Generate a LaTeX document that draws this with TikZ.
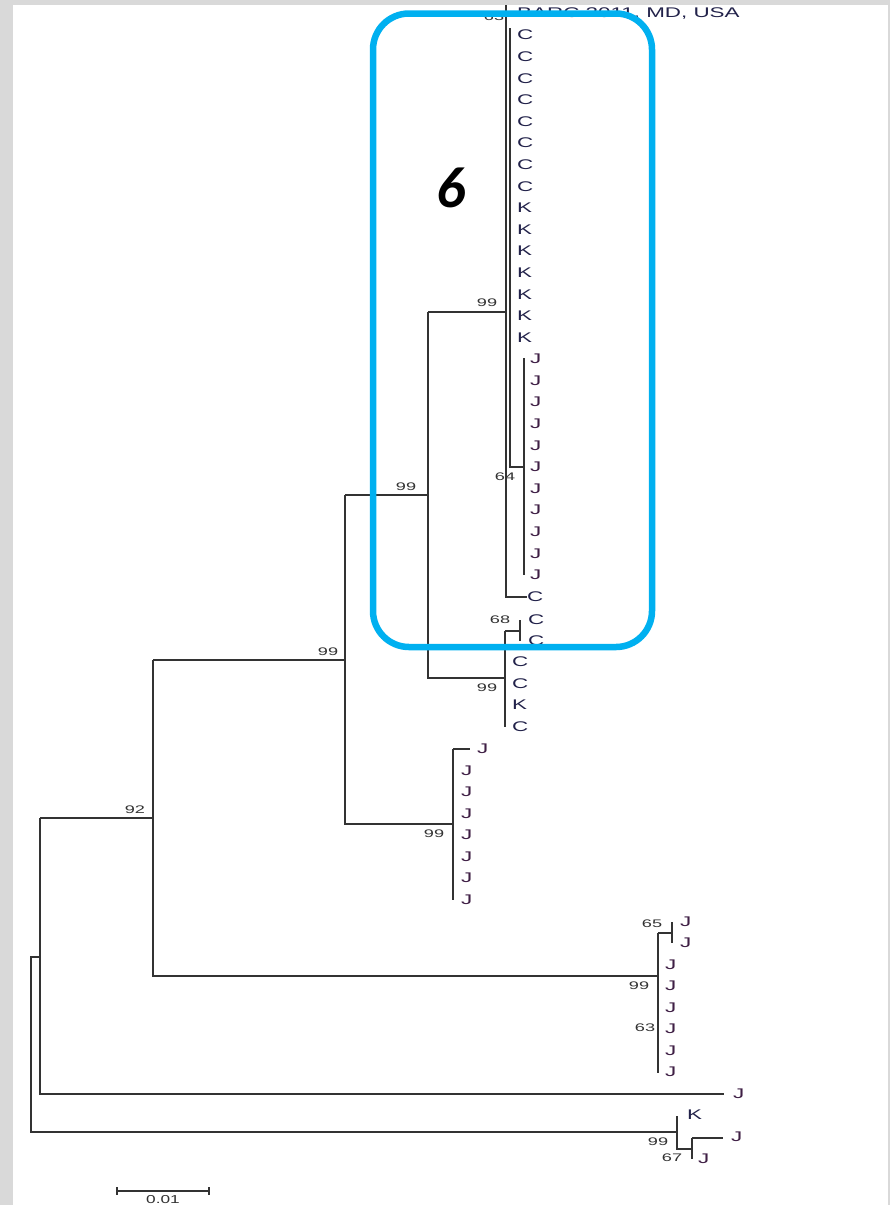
\documentclass[tikz,border=0pt]{standalone}
\usepackage{graphicx}
\usepackage{fontspec}
\setmainfont{Liberation Sans}
\newfontfamily\sixfont{Carlito}
\definecolor{bgc}{HTML}{D9D9D9}
\definecolor{hlc}{HTML}{00B0F0}
\definecolor{brc}{HTML}{333333}
\definecolor{ckc}{HTML}{22224A}
\definecolor{jjc}{HTML}{3F1F45}
\definecolor{bsc}{HTML}{333333}
\newcommand\sx[1]{\scalebox{1.6}[1]{#1}}
\newcommand\sxn[1]{\scalebox{1.65}[1]{#1}}
\begin{document}
\begin{tikzpicture}[x=1pt,y=-1pt,
  brl/.style={draw=brc,line width=1.1pt},
  leaf/.style={inner sep=0pt,anchor=west,font=\fontsize{14}{16}\selectfont,text=ckc},
  jleaf/.style={leaf,text=jjc},
  boot/.style={inner sep=0pt,font=\fontsize{11}{13}\selectfont,text=bsc}]
\useasboundingbox (0,0) rectangle (890,1205);
\clip (0,0) rectangle (890,1205);
\fill[bgc] (0,0) rectangle (890,1205);
\fill[white] (13,5) rectangle (888,1210);

% ---------- internal nodes ----------
\coordinate (root) at (31,957);
\coordinate (nH) at (40,818);
\coordinate (nF) at (153,660);
\coordinate (nD) at (345,495);
\coordinate (nC) at (428,312);
\coordinate (nA) at (506,312);
\coordinate (nB) at (505,678);
\coordinate (nB68) at (520,631);
\coordinate (nE) at (453,824);
\coordinate (nG) at (658,976);
\coordinate (nG65) at (672,933);
\coordinate (nI) at (677,1132);
\coordinate (nI67) at (692,1138);

% ---------- top cluster (6) ----------
\node[leaf] (barc) at (517,14) {\sx{BARC 2011, MD, USA}};
\foreach \i in {0,...,7}{\node[leaf] (tc\i) at (517,35+21.6*\i) {\sx{C}};}
\foreach \i in {8,...,14}{\node[leaf] (tk\i) at (517,35+21.6*\i) {\sx{K}};}
\foreach \i in {15,...,25}{\node[jleaf] (tj\i) at (530,35+21.6*\i) {\sx{J}};}
\node[leaf] (tclast) at (527,597) {\sx{C}};
\draw[brl] (506,5) -- (506,597) -- (tclast.west);
\draw[brl] (510,28) -- (510,467) -- (524,467);
\draw[brl] (524,358) -- (524,575);
\node[boot] at (494,17) {\sxn{63}};
\node[boot] at (487,303) {\sxn{99}};
\node[boot] at (505,477) {\sxn{64}};

% ---------- node A / C / B ----------
\draw[brl] (nC) -- (nA);
\draw[brl] (nC) -- (428,678) -- (nB);
\draw[brl] (nD) -- (nC |- nD);
\node[boot] at (406,487) {\sxn{99}};
\node[leaf] (b1) at (528,620) {\sx{C}};
\node[leaf] (b2) at (528,641) {\sx{C}};
\node[leaf] (b3) at (512,662) {\sx{C}};
\node[leaf] (b4) at (512,684) {\sx{C}};
\node[leaf] (b5) at (512,705) {\sx{K}};
\node[leaf] (b6) at (512,727) {\sx{C}};
\draw[brl] (505,631) -- (505,727);
\draw[brl] (505,631) -- (nB68);
\draw[brl] (520,620) -- (520,641);
\node[boot] at (500,620) {\sxn{68}};
\node[boot] at (487,688) {\sxn{99}};

% ---------- node D / E ----------
\draw[brl] (nD) -- (345,824) -- (nE);
\draw[brl] (nF) -- (nD |- nF);
\node[boot] at (328,652) {\sxn{99}};
\node[jleaf] (e0) at (477,749) {\sx{J}};
\foreach \i in {1,...,7}{\node[jleaf] (e\i) at (461,749+21.5*\i) {\sx{J}};}
\draw[brl] (453,749) -- (453,900);
\draw[brl] (453,749) -- (470,749);
\node[boot] at (434,834) {\sxn{99}};

% ---------- node F / G ----------
\draw[brl] (nF) -- (153,976) -- (nG);
\draw[brl] (nH) -- (nF |- nH);
\node[boot] at (135,810) {\sxn{92}};
\node[jleaf] (g0) at (680,922) {\sx{J}};
\node[jleaf] (g1) at (680,943) {\sx{J}};
\foreach \i in {2,...,7}{\node[jleaf] (g\i) at (665,922+21.4*\i) {\sx{J}};}
\draw[brl] (658,933) -- (658,1073);
\draw[brl] (658,933) -- (nG65);
\draw[brl] (672,922) -- (672,943);
\node[boot] at (652,924) {\sxn{65}};
\node[boot] at (639,986) {\sxn{99}};
\node[boot] at (645,1028) {\sxn{63}};

% ---------- node H / root ----------
\node[jleaf] (hj) at (733,1094) {\sx{J}};
\draw[brl] (nH) -- (40,1094) -- (724,1094);
\draw[brl] (nH |- root) -- (root) -- (31,1132) -- (nI);

% ---------- node I ----------
\node[leaf] (ik) at (687,1115) {\sx{K}};
\node[jleaf] (ij1) at (731,1137) {\sx{J}};
\node[jleaf] (ij2) at (698,1159) {\sx{J}};
\draw[brl] (677,1116) -- (677,1149) -- (692,1149);
\draw[brl] (692,1138) -- (692,1159);
\draw[brl] (nI67) -- (723,1138);
\node[boot] at (658,1142) {\sxn{99}};
\node[boot] at (672,1158) {\sxn{67}};

% ---------- scale bar ----------
\coordinate (sbl) at (117,1191);
\coordinate (sbr) at (209,1191);
\draw[brl] (sbl) -- (sbr);
\draw[brl] (117,1187) -- (117,1195);
\draw[brl] (209,1187) -- (209,1195);
\node[boot,anchor=north,font=\fontsize{11.5}{13}\selectfont] (sbt) at (163,1195) {\scalebox{1.5}[1]{0.01}};

% ---------- highlight ----------
\draw[hlc,line width=6.5pt,rounded corners=36pt] (373,13.5) rectangle (652,647);
\node[inner sep=0pt] (six) at (451,188) {\sixfont\bfseries\itshape\fontsize{58}{58}\selectfont 6};
\end{tikzpicture}
\end{document}
